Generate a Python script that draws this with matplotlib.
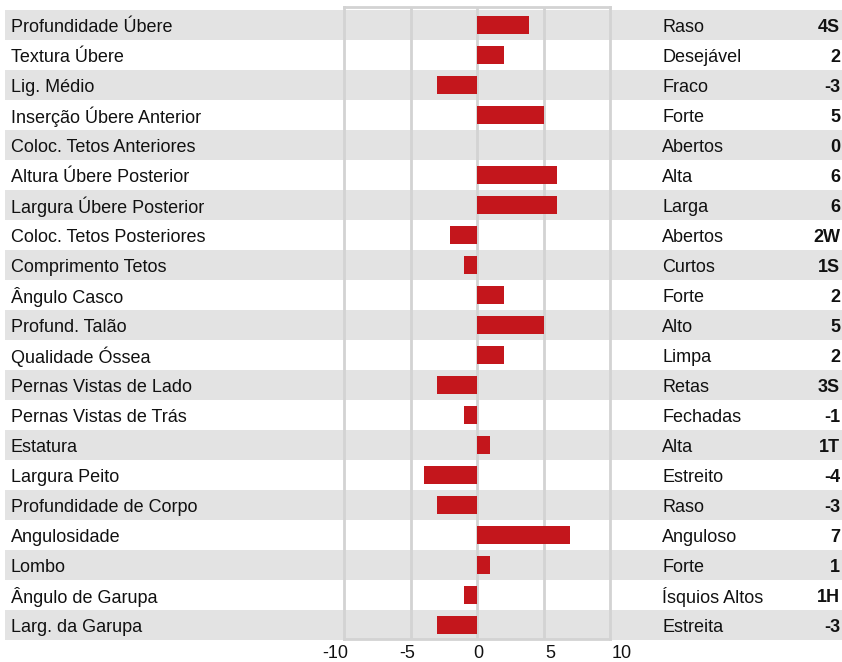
import matplotlib.pyplot as plt
from matplotlib.patches import Rectangle

plt.rcParams['font.family'] = ['Liberation Sans', 'DejaVu Sans']

traits = ["Profundidade Úbere", "Textura Úbere", "Lig. Médio", "Inserção Úbere Anterior",
          "Coloc. Tetos Anteriores", "Altura Úbere Posterior", "Largura Úbere Posterior",
          "Coloc. Tetos Posteriores", "Comprimento Tetos", "Ângulo Casco", "Profund. Talão",
          "Qualidade Óssea", "Pernas Vistas de Lado", "Pernas Vistas de Trás", "Estatura",
          "Largura Peito", "Profundidade de Corpo", "Angulosidade", "Lombo",
          "Ângulo de Garupa", "Larg. da Garupa"]
values = [3.9, 2, -3, 5, 0, 6, 6, -2, -1, 2, 5, 2, -3, -1, 1, -4, -3, 7, 1, -1, -3]
descr = ["Raso", "Desejável", "Fraco", "Forte", "Abertos", "Alta", "Larga", "Abertos",
         "Curtos", "Forte", "Alto", "Limpa", "Retas", "Fechadas", "Alta", "Estreito",
         "Raso", "Anguloso", "Forte", "Ísquios Altos", "Estreita"]
scores = ["4S", "2", "-3", "5", "0", "6", "6", "2W", "1S", "2", "5", "2", "3S", "-1",
          "1T", "-4", "-3", "7", "1", "1H", "-3"]
xticks = [-10, -5, 0, 5, 10]

W, H = 842, 662
FS = 13
fig = plt.figure(figsize=(W / 100, H / 100), dpi=100)

# background: bands + labels in pixel coords
bg = fig.add_axes([0, 0, 1, 1])
bg.set_xlim(0, W)
bg.set_ylim(H, 0)
bg.axis('off')
band_top, row_h = 10, 30
for i in range(len(traits)):
    y0 = band_top + row_h * i
    if i % 2 == 0:
        bg.add_patch(Rectangle((5, y0), W - 5, row_h, color='#e3e3e3', lw=0))
    yc = y0 + row_h / 2
    bg.text(11, yc, traits[i], va='center_baseline', ha='left', fontsize=FS, color='#111111')
    bg.text(662, yc, descr[i], va='center_baseline', ha='left', fontsize=FS, color='#111111')
    bg.text(840, yc, scores[i], va='center_baseline', ha='right', fontsize=FS,
            fontweight='bold', color='#111111')

# bar axes
left, right, top, bottom = 344, 610, 7, 639
ax = fig.add_axes([left / W, 1 - bottom / H, (right - left) / W, (bottom - top) / H])
ax.patch.set_alpha(0)
rows = list(range(len(traits)))
ax.barh(rows, values, height=0.6, color='#c4161c', zorder=3)
ax.set_xlim(-10, 10)
ax.set_ylim((bottom - band_top - row_h / 2) / row_h, (top - band_top - row_h / 2) / row_h)
ax.set_xticks([])
ax.set_yticks([])
for x in xticks[1:-1]:
    ax.axvline(x, color='#d3d3d3', lw=2, zorder=1)
for s in ax.spines.values():
    s.set_color('#d3d3d3')
    s.set_linewidth(2)

# tick labels sit on a slightly wider scale than the plot box
tl, tr = 335, 622
tax = fig.add_axes([tl / W, 1 - bottom / H, (tr - tl) / W, 0.001])
tax.patch.set_alpha(0)
tax.set_xlim(-10, 10)
tax.set_yticks([])
tax.set_xticks(xticks)
tax.set_xticklabels([str(t) for t in xticks], fontsize=FS, color='#111111')
tax.tick_params(axis='x', length=0, pad=4)
for s in tax.spines.values():
    s.set_visible(False)

fig.savefig('out.png', dpi=100)
